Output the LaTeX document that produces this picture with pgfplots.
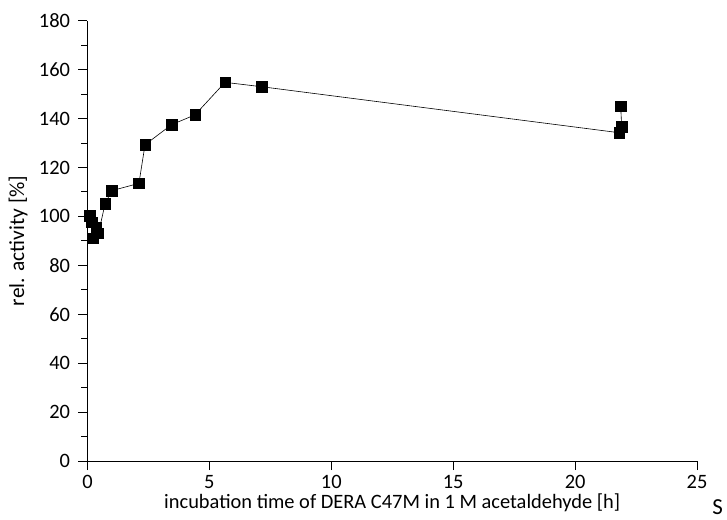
\documentclass[border=0pt]{standalone}
\usepackage{pgfplots}
\pgfplotsset{compat=1.18}
\usepackage{fontspec}
\setmainfont{Carlito}
\begin{document}
\begin{tikzpicture}
\begin{axis}[
  scale only axis,
  width=609.5bp, height=440.3bp,
  xmin=0, xmax=25, ymin=0, ymax=180,
  axis lines=left,
  axis line style={-, line width=0.9bp},
  xtick={0,5,...,25},
  ytick={0,20,...,180},
  minor ytick={10,30,...,170},
  tick align=outside,
  tick style={black, line width=0.9bp},
  major tick length=9bp,
  minor tick length=6bp,
  tick label style={font=\fontsize{20.5}{24}\selectfont},
  yticklabel style={xshift=-5bp},
  xticklabel style={yshift=-2bp},
  /pgf/number format/assume math mode=true,
  xlabel={incubation time of DERA C47M in 1 M acetaldehyde [h]},
  ylabel={rel. activity [\%]},
  xlabel style={font=\fontsize{20.5}{24}\selectfont, at={(axis description cs:0.5,-0.095)}, anchor=center},
  ylabel style={font=\fontsize{21.5}{24}\selectfont, at={(axis description cs:-0.114,0.5)}, anchor=center},
  clip=false,
]
\addplot[black, line width=0.6bp, mark=square*, mark size=5.2bp, mark options={solid, fill=black}] coordinates {
(0.10,100.2) (0.17,97.5) (0.24,91.0) (0.35,95.5) (0.45,93.1) (0.72,105.1) (0.99,110.5)
(2.11,113.5) (2.36,129.3) (3.45,137.5) (4.41,141.5) (5.64,154.8) (7.15,153.0)
(21.81,134.2) (21.91,136.7) (21.87,145.1)
};
\node[font=\fontsize{23}{24}\selectfont, anchor=center] at (rel axis cs:1.034,-0.104) {S};
\end{axis}
\path (-87.5bp,-59bp) rectangle (639.5bp,461bp);
\end{tikzpicture}
\end{document}
